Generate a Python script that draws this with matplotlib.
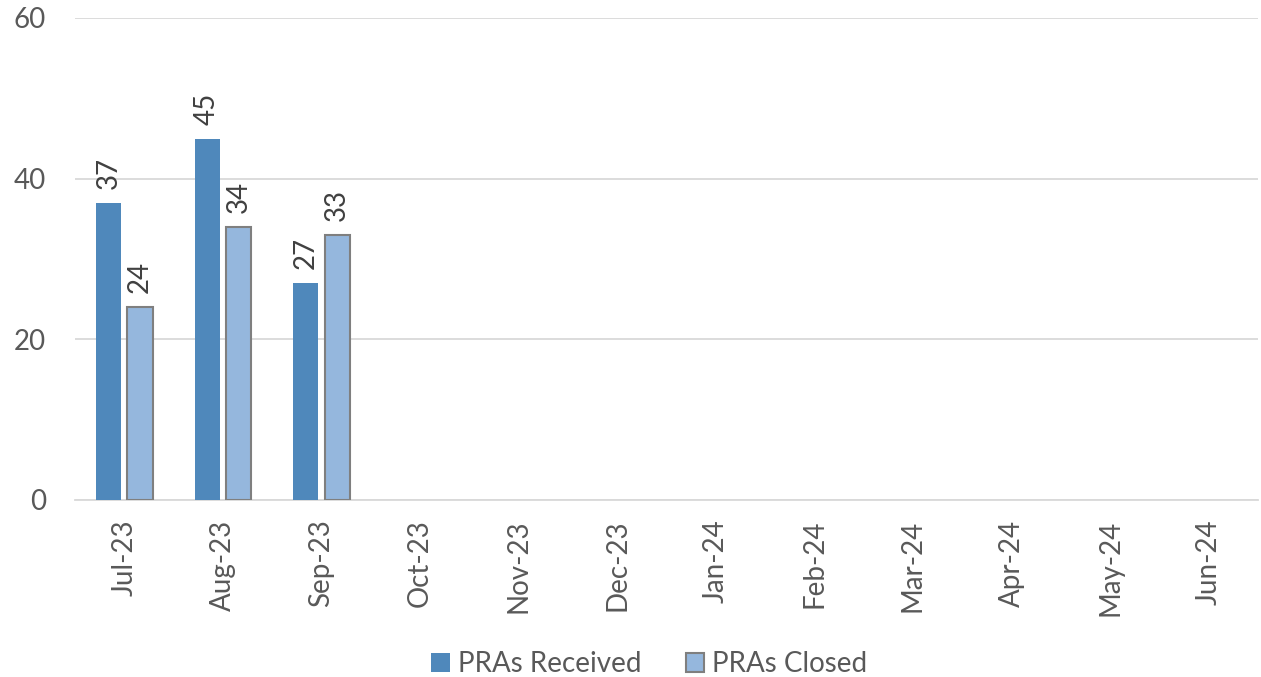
import matplotlib
matplotlib.use("Agg")
import matplotlib.pyplot as plt
import numpy as np

categories = ["Jul-23", "Aug-23", "Sep-23", "Oct-23", "Nov-23", "Dec-23",
              "Jan-24", "Feb-24", "Mar-24", "Apr-24", "May-24", "Jun-24"]
received = [37, 45, 27]
closed = [24, 34, 33]
yticks = [0, 20, 40, 60]

plt.rcParams['font.family'] = ['Lato', 'DejaVu Sans']
txt = '#595959'

fig = plt.figure(figsize=(12.61, 6.77), dpi=100)
ax = fig.add_axes([75/1261, 1-500/677, (1258-75)/1261, (500-18)/677])

x = np.arange(len(categories))
w = 0.255
off = 0.16
xr = x[:len(received)]
b1 = ax.bar(xr - off, received, w, color='#4F88BB', label='PRAs Received', zorder=3)
b2 = ax.bar(xr + off, closed, w, color='#95B7DD', edgecolor='#7F7F7F', linewidth=1.5,
            label='PRAs Closed', zorder=3)
for bars in (b1, b2):
    for r in bars:
        ax.annotate(f"{int(r.get_height())}", (r.get_x() + r.get_width()/2, r.get_height()),
                    xytext=(0, 10), textcoords='offset points', rotation=90,
                    ha='center', va='bottom', fontsize=20, color='#404040')

ax.set_xlim(-0.5, len(categories) - 0.5)
ax.set_ylim(0, 60)
ax.set_yticks(yticks)
ax.set_xticks(x)
ax.set_xticklabels(categories, rotation=90, fontsize=20, color=txt)
ax.tick_params(axis='y', labelsize=20, labelcolor=txt, length=0, pad=21)
ax.tick_params(axis='x', length=0, pad=14)
ax.grid(axis='y', color='#D9D9D9', linewidth=1.3, zorder=0)
for s in ['top', 'right', 'left']:
    ax.spines[s].set_visible(False)
ax.spines['bottom'].set_color('#D9D9D9')
ax.spines['bottom'].set_linewidth(1.3)

fig.legend(handles=[b1, b2], loc='lower center', bbox_to_anchor=(0.515, -0.037), ncol=2,
           frameon=False, fontsize=20, labelcolor=txt, handlelength=0.65, handleheight=0.65,
           handletextpad=0.3, columnspacing=1.6)

fig.savefig('out.png', dpi=100)
